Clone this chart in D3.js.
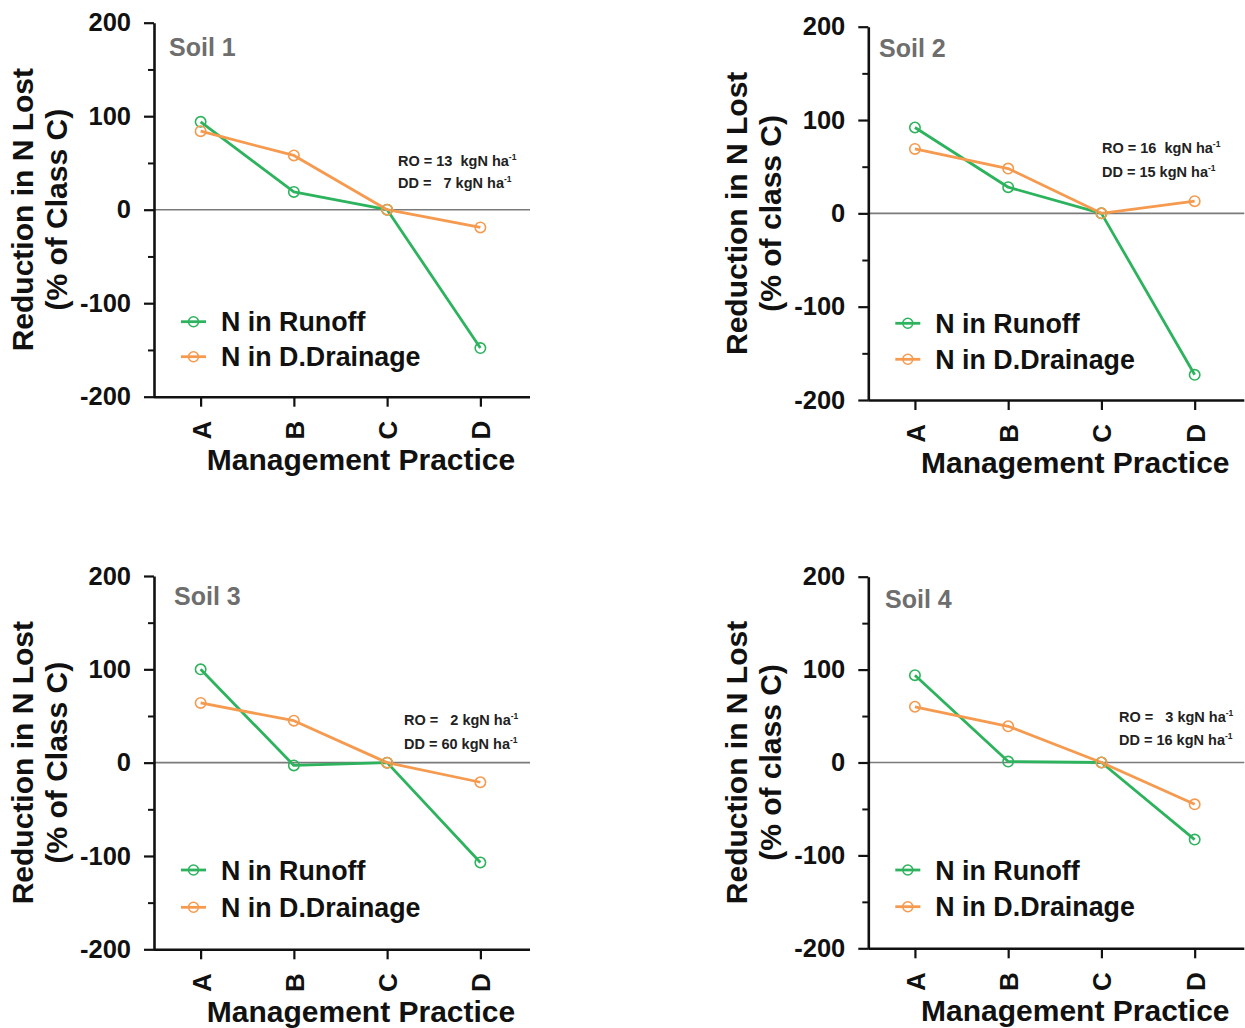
<!DOCTYPE html>
<html>
<head>
<meta charset="utf-8">
<script src="https://cdn.jsdelivr.net/npm/d3@7"></script>
<style>
  html, body { margin: 0; padding: 0; background: #fff; }
  svg { display: block; font-family: "Liberation Sans", Arial, sans-serif; }
  text { white-space: pre; }
</style>
</head>
<body>
<svg id="chart" width="1245" height="1028"></svg>
<script>
// ---------------- data ----------------
const categories = ["A", "B", "C", "D"];
const soilNames = ["Soil 1", "Soil 2", "Soil 3", "Soil 4"];
const runoff = [
  [94, 19, 0, -148],
  [92, 28, 0, -173],
  [100, -3, 0, -107],
  [94, 1, 0, -83]
];
const drainage = [
  [84, 58, 0, -19],
  [69, 48, 0, 13],
  [64, 45, 0, -21],
  [60, 39, 0, -45]
];
const seriesNames = ["N in Runoff", "N in D.Drainage"];
const roLabels = ["RO = 13  kgN ha", "RO = 16  kgN ha", "RO =   2 kgN ha", "RO =   3 kgN ha"];
const ddLabels = ["DD =   7 kgN ha", "DD = 15 kgN ha", "DD = 60 kgN ha", "DD = 16 kgN ha"];
const yTitle1 = "Reduction in N Lost";
const yTitle2 = ["(% of Class C)", "(% of class C)", "(% of Class C)", "(% of class C)"];
const xTitle = "Management Practice";
const yMajorTicks = [-200, -100, 0, 100, 200];
const yMinorTicks = [-150, -50, 50, 150];
const yDomain = [-200, 200];

// ---------------- layout ----------------
const layout = [
  { x0: 154,   yTop: 22.7,  yBot: 396.7, soil: [169, 56],  leg: [321.7, 356.7], ann: [398, 166, 188] },
  { x0: 868.3, yTop: 26.7,  yBot: 400,   soil: [879, 57],  leg: [323.3, 359.3], ann: [1102, 153, 177] },
  { x0: 154,   yTop: 576,   yBot: 949.3, soil: [174, 605], leg: [870, 907.3],   ann: [404, 725, 749] },
  { x0: 868.3, yTop: 576.7, yBot: 948.3, soil: [885, 608], leg: [870, 906.7],   ann: [1119, 722, 745] }
];
const plotW = 373;
const colors = ["#2db35d", "#f59a4e"];

const svg = d3.select("#chart");

layout.forEach((L, i) => {
  const g = svg.append("g");
  const x = d3.scalePoint().domain(categories).range([L.x0, L.x0 + plotW]).padding(0.5);
  const y = d3.scaleLinear().domain(yDomain).range([L.yBot, L.yTop]);

  // zero line
  g.append("line")
    .attr("x1", L.x0).attr("x2", L.x0 + plotW + 3)
    .attr("y1", y(0)).attr("y2", y(0))
    .attr("stroke", "#7a7a7a").attr("stroke-width", 1.6);

  // minor y ticks
  const yMinor = g.append("g").attr("transform", `translate(${L.x0},0)`)
    .call(d3.axisLeft(y).tickValues(yMinorTicks).tickSize(6).tickSizeOuter(0).tickFormat(""));
  yMinor.select(".domain").remove();
  yMinor.selectAll("line").attr("stroke", "#111").attr("stroke-width", 2);

  // major y axis
  const yAx = g.append("g").attr("transform", `translate(${L.x0},0)`)
    .call(d3.axisLeft(y).tickValues(yMajorTicks).tickSize(10).tickSizeOuter(0).tickPadding(13)
      .tickFormat(d => String(d)));
  yAx.select(".domain").attr("stroke", "#111").attr("stroke-width", 2.6);
  yAx.selectAll(".tick line").attr("stroke", "#111").attr("stroke-width", 2.2);
  yAx.selectAll(".tick text")
    .attr("font-family", "'Liberation Sans', Arial, sans-serif")
    .attr("font-size", 25.5).attr("font-weight", "bold").attr("fill", "#111");

  // x axis
  const xAx = g.append("g").attr("transform", `translate(0,${L.yBot})`)
    .call(d3.axisBottom(x).tickSize(10).tickSizeOuter(0));
  xAx.select(".domain").attr("d", `M${L.x0},0.5H${L.x0 + plotW + 3}`)
    .attr("stroke", "#111").attr("stroke-width", 2.6);
  xAx.selectAll(".tick line").attr("stroke", "#111").attr("stroke-width", 2.2);
  xAx.selectAll(".tick text")
    .attr("font-family", "'Liberation Sans', Arial, sans-serif")
    .attr("font-size", 26).attr("font-weight", "bold").attr("fill", "#111")
    .attr("transform", "rotate(-90)")
    .attr("text-anchor", "end")
    .attr("x", -24).attr("y", 0).attr("dy", "0.36em");

  // y title
  const cy = (L.yTop + L.yBot) / 2;
  g.append("text")
    .attr("transform", `translate(${L.x0 - 121},${cy}) rotate(-90)`)
    .attr("text-anchor", "middle")
    .attr("font-size", 30).attr("font-weight", "bold").attr("fill", "#111")
    .text(yTitle1);
  g.append("text")
    .attr("transform", `translate(${L.x0 - 87},${cy}) rotate(-90)`)
    .attr("text-anchor", "middle")
    .attr("font-size", 30).attr("font-weight", "bold").attr("fill", "#111")
    .text(yTitle2[i]);

  // x title
  g.append("text")
    .attr("x", L.x0 + 207).attr("y", L.yBot + 73)
    .attr("text-anchor", "middle")
    .attr("font-size", 30).attr("font-weight", "bold").attr("fill", "#111")
    .text(xTitle);

  // soil label
  g.append("text")
    .attr("x", L.soil[0]).attr("y", L.soil[1])
    .attr("font-size", 25).attr("font-weight", "bold").attr("fill", "#6e6e6e")
    .text(soilNames[i]);

  // annotation
  [roLabels[i], ddLabels[i]].forEach((s, k) => {
    const t = g.append("text")
      .attr("x", L.ann[0]).attr("y", L.ann[1 + k])
      .attr("font-size", 14.5).attr("font-weight", "bold").attr("fill", "#222");
    t.append("tspan").text(s);
    t.append("tspan").attr("font-size", 8.5).attr("dy", -6).text("-1");
  });

  // series
  const series = [runoff[i], drainage[i]];
  const line = d3.line().x((d, j) => x(categories[j])).y(d => y(d));
  series.forEach((vals, s) => {
    g.append("path").datum(vals)
      .attr("d", line)
      .attr("fill", "none").attr("stroke", colors[s]).attr("stroke-width", 2.8)
      .attr("stroke-linejoin", "round");
  });
  series.forEach((vals, s) => {
    g.selectAll(null).data(vals).enter().append("circle")
      .attr("cx", (d, j) => x(categories[j])).attr("cy", d => y(d))
      .attr("r", 5.2)
      .attr("fill", "none").attr("stroke", colors[s]).attr("stroke-width", 1.6);
  });

  // legend
  seriesNames.forEach((name, s) => {
    const ly = L.leg[s];
    g.append("line")
      .attr("x1", L.x0 + 27).attr("x2", L.x0 + 52)
      .attr("y1", ly).attr("y2", ly)
      .attr("stroke", colors[s]).attr("stroke-width", 2.8);
    g.append("circle")
      .attr("cx", L.x0 + 39.5).attr("cy", ly).attr("r", 5)
      .attr("fill", "none").attr("stroke", colors[s]).attr("stroke-width", 1.5);
    g.append("text")
      .attr("x", L.x0 + 67).attr("y", ly).attr("dy", "0.36em")
      .attr("font-size", 26.8).attr("font-weight", "bold").attr("fill", "#111")
      .text(name);
  });
});
</script>
</body>
</html>
